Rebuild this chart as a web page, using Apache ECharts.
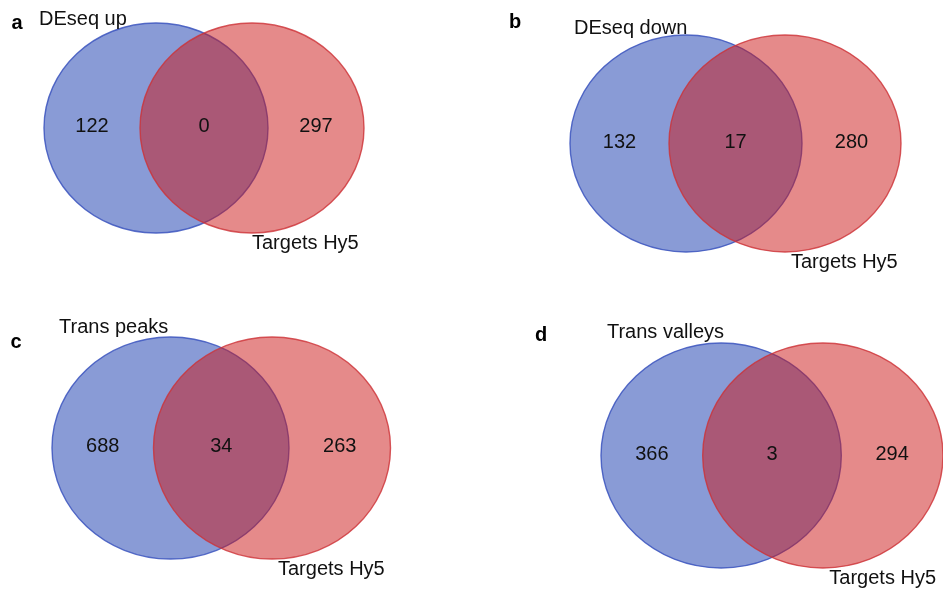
<!DOCTYPE html>
<html>
<head>
<meta charset="utf-8">
<script src="https://cdn.jsdelivr.net/npm/echarts@6/dist/echarts.min.js"></script>
<style>
  html, body { margin: 0; padding: 0; background: #ffffff; }
  #chart { width: 943px; height: 594px; }
</style>
</head>
<body>
<div id="chart"></div>
<script>
// Four two-set Venn diagrams: each gene set against the Hy5 target list.
const panelLetters = ['a', 'b', 'c', 'd'];
const setNames = ['DEseq up', 'DEseq down', 'Trans peaks', 'Trans valleys'];
const targetName = 'Targets Hy5';
const onlySetCounts = [122, 132, 688, 366];
const sharedCounts = [0, 17, 34, 3];
const onlyTargetCounts = [297, 280, 263, 294];

// Panel geometry (px): box of the two ellipses, radii, centre distance,
// offsets of the set names and position of the panel letter.
const panels = [
  { left: 44,  top: 23,  rx: 112,   ry: 105,   sep: 96,    setLabel: [-5, -4],  targetLabel: [0, 10],   letter: [17, 23] },
  { left: 570, top: 35,  rx: 116,   ry: 108.5, sep: 99,    setLabel: [4, -7],   targetLabel: [6, 10],   letter: [515, 22] },
  { left: 52,  top: 337, rx: 118.5, ry: 111,   sep: 101.5, setLabel: [7, -10],  targetLabel: [6, 10],   letter: [16, 342] },
  { left: 601, top: 343, rx: 120.5, ry: 112.5, sep: 102,   setLabel: [6, -11],  targetLabel: [6.5, 10], letter: [541, 335] }
];

const fills = ['rgba(19, 55, 173, 0.5)', 'rgba(203, 21, 21, 0.5)'];
const strokes = ['rgba(60, 85, 190, 0.85)', 'rgba(205, 50, 55, 0.8)'];
const textFont = '"Liberation Sans", Arial, Helvetica, sans-serif';
const letterFont = '"Liberation Sans Narrow", "Liberation Sans", Arial, sans-serif';

const grids = [], xAxes = [], yAxes = [], series = [], graphics = [];

panels.forEach(function (p, i) {
  const w = p.sep + 2 * p.rx;
  const h = 2 * p.ry;
  grids.push({ left: p.left, top: p.top, width: w, height: h, containLabel: false });
  xAxes.push({ type: 'value', gridIndex: i, min: 0, max: w, show: false });
  yAxes.push({ type: 'value', gridIndex: i, min: 0, max: h, inverse: true, show: false });

  // the two sets as ellipses: set first, Hy5 targets drawn over it
  series.push({
    type: 'custom',
    coordinateSystem: 'cartesian2d',
    xAxisIndex: i,
    yAxisIndex: i,
    clip: false,
    silent: true,
    z: 2,
    data: [[p.rx, p.ry, 0], [p.rx + p.sep, p.ry, 1]],
    renderItem: function (params, api) {
      const c = api.coord([api.value(0), api.value(1)]);
      const s = api.size([p.rx, p.ry]);
      const k = api.value(2);
      return {
        type: 'ellipse',
        shape: { cx: c[0], cy: c[1], rx: Math.abs(s[0]), ry: Math.abs(s[1]) },
        style: { fill: fills[k], stroke: strokes[k], lineWidth: 1.4 }
      };
    }
  });

  // region counts and set names
  const texts = [
    { v: [p.sep / 2, p.ry - 1.5], text: String(onlySetCounts[i]), align: 'center' },
    { v: [p.sep + (2 * p.rx - p.sep) / 2, p.ry - 1.5], text: String(sharedCounts[i]), align: 'center' },
    { v: [2 * p.rx + p.sep / 2, p.ry - 1.5], text: String(onlyTargetCounts[i]), align: 'center' },
    { v: [p.setLabel[0], p.setLabel[1]], text: setNames[i], align: 'left' },
    { v: [p.rx + p.sep + p.targetLabel[0], h + p.targetLabel[1]], text: targetName, align: 'left' }
  ];
  series.push({
    type: 'custom',
    coordinateSystem: 'cartesian2d',
    xAxisIndex: i,
    yAxisIndex: i,
    clip: false,
    silent: true,
    z: 5,
    data: texts.map(function (t) { return t.v; }),
    renderItem: function (params, api) {
      const t = texts[params.dataIndex];
      const c = api.coord([api.value(0), api.value(1)]);
      return {
        type: 'text',
        x: c[0],
        y: c[1],
        style: {
          text: t.text,
          font: '20px ' + textFont,
          fill: '#111111',
          align: t.align,
          textAlign: t.align,
          verticalAlign: 'middle',
          textVerticalAlign: 'middle'
        }
      };
    }
  });

  graphics.push({
    type: 'text',
    x: p.letter[0],
    y: p.letter[1],
    silent: true,
    style: {
      text: panelLetters[i],
      font: 'bold 20px ' + letterFont,
      fill: '#000000',
      align: 'center',
      textAlign: 'center',
      verticalAlign: 'middle',
      textVerticalAlign: 'middle'
    }
  });
});

const chart = echarts.init(document.getElementById('chart'), null, { renderer: 'canvas' });
chart.setOption({
  backgroundColor: '#ffffff',
  animation: false,
  grid: grids,
  xAxis: xAxes,
  yAxis: yAxes,
  series: series,
  graphic: graphics
});
</script>
</body>
</html>
